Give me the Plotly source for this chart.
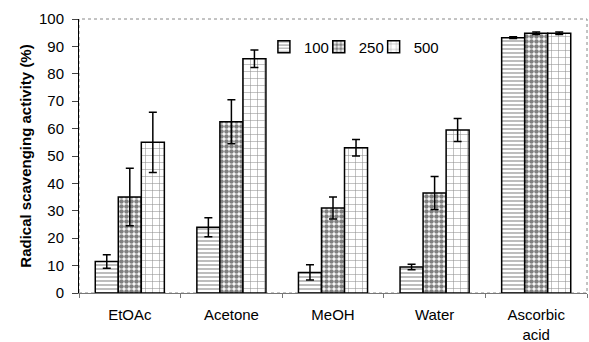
import plotly.graph_objects as go

categories = ["EtOAc", "Acetone", "MeOH", "Water", "Ascorbic<br>acid"]
series_names = ["100", "250", "500"]
vals_100 = [11.5, 24, 7.5, 9.5, 93.2]
vals_250 = [35, 62.5, 31, 36.5, 94.8]
vals_500 = [55, 85.5, 53, 59.5, 94.8]
err_100 = [2.5, 3.5, 2.8, 1.0, 0.3]
err_250 = [10.5, 8.0, 4.0, 6.0, 0.5]
err_500 = [11.0, 3.2, 3.0, 4.2, 0.5]
y_ticks = [0, 10, 20, 30, 40, 50, 60, 70, 80, 90, 100]

values = [vals_100, vals_250, vals_500]
errors = [err_100, err_250, err_500]
patterns = [dict(shape="-", size=4, solidity=0.3, fgcolor="#222", bgcolor="white"),
            dict(shape=".", size=5, solidity=0.65, fgcolor="#000", bgcolor="white"),
            dict(shape="+", size=7, solidity=0.15, fgcolor="#222", bgcolor="white")]
legend_ids = ["legend", "legend2", "legend3"]
legend_x = [0.364, 0.472, 0.580]

fig = go.Figure()
for name, v, e, p, lg in zip(series_names, values, errors, patterns, legend_ids):
    fig.add_trace(go.Bar(
        x=categories, y=v, name=name, legend=lg,
        marker=dict(color="white", pattern=p, line=dict(color="black", width=1.5)),
        error_y=dict(type="data", array=e, visible=True, color="black", thickness=1.5, width=4),
    ))

legend_common = dict(orientation="h", y=0.898, xanchor="left", yanchor="middle",
                     font=dict(size=15), bgcolor="rgba(0,0,0,0)", itemwidth=30)
fig.update_layout(
    width=589, height=342,
    margin=dict(l=79, r=2, t=19, b=49, autoexpand=False),
    paper_bgcolor="white", plot_bgcolor="white",
    barmode="group", bargap=0.32, bargroupgap=0,
    font=dict(family="Liberation Sans, Arial", color="black"),
    showlegend=True,
    **{lg: dict(x=lx, **legend_common) for lg, lx in zip(legend_ids, legend_x)},
)
fig.update_yaxes(
    range=[0, 100], tickvals=y_ticks, showgrid=False, zeroline=False,
    showline=True, linecolor="black", linewidth=1, mirror=False,
    ticks="outside", ticklen=6, tickcolor="#444", tickfont=dict(size=15),
    ticklabelstandoff=5, automargin=False,
    title=dict(text="<b>Radical scavenging activity (%)</b>", font=dict(size=15), standoff=3),
)
fig.update_xaxes(
    showgrid=False, showline=True, linecolor="#777", linewidth=1,
    ticks="outside", tickson="boundaries", ticklen=4, tickcolor="#777",
    tickfont=dict(size=15), ticklabelstandoff=8, automargin=False,
)
fig.add_shape(type="rect", xref="paper", yref="paper", x0=0, y0=0, x1=1, y1=1,
              line=dict(color="#888", width=1, dash="dot"), layer="below")

fig.write_html("out.html", config={"displayModeBar": False},
               post_script="document.body.style.margin='0';document.body.style.overflow='hidden';")
